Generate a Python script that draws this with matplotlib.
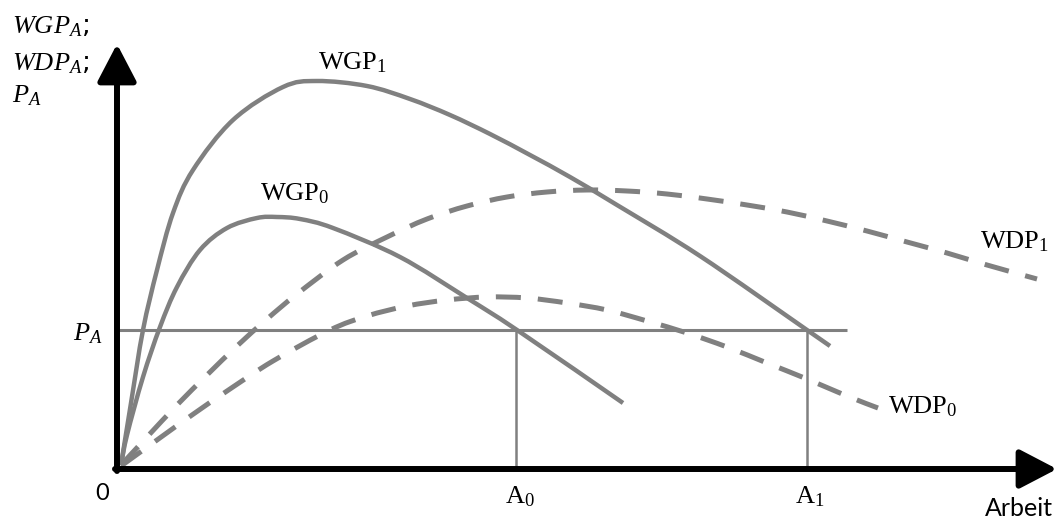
import matplotlib
matplotlib.use('Agg')
import matplotlib.pyplot as plt
from matplotlib.path import Path
from matplotlib.patches import PathPatch

plt.rcParams['mathtext.fontset'] = 'custom'
plt.rcParams['mathtext.rm'] = 'Liberation Serif'
plt.rcParams['mathtext.it'] = 'Liberation Serif:italic'

# curves (x = labour, y = value), origin at 0/0
wgp1_x = [4, 14, 26, 40, 56, 76, 116, 166, 200, 250, 293, 333, 373, 413, 453, 500, 583, 690, 713]
wgp1_y = [4, 66, 139, 199, 256, 299, 349, 382, 388, 383, 370, 354, 335, 314, 292, 264, 213, 139, 123]

wgp0_x = [4, 10, 26, 43, 60, 83, 110, 140, 160, 183, 216, 283, 350, 400, 506]
wgp0_y = [4, 34, 92, 142, 182, 219, 241, 251, 252, 250, 241, 212, 171, 139, 66]

wdp1_x = [4, 30, 60, 90, 120, 150, 180, 226, 270, 310, 350, 390, 430, 470, 510,
          550, 590, 630, 670, 710, 750, 790, 830, 870, 920]
wdp1_y = [4, 32, 64, 94, 123, 150, 175, 209, 232, 250, 263, 272, 277, 279, 278,
          275, 270, 264, 257, 248, 238, 227, 216, 204, 190]

wdp0_x = [4, 40, 75, 110, 156, 213, 250, 290, 330, 370, 410, 450, 490, 530,
          570, 610, 650, 690, 730, 761]
wdp0_y = [3, 29, 54, 78, 108, 139, 153, 163, 169, 172, 171, 166, 159, 148,
          136, 122, 106, 90, 73, 61]

p_a = 139
p_a_end = 730
a0 = 399
a1 = 690

grey = '#808080'


def smooth(xs, ys):
    # Catmull-Rom through the read points, drawn as bezier segments
    pts = list(zip(xs, ys))
    verts = [pts[0]]
    codes = [Path.MOVETO]
    for i in range(len(pts) - 1):
        p0 = pts[max(i - 1, 0)]
        p1 = pts[i]
        p2 = pts[i + 1]
        p3 = pts[min(i + 2, len(pts) - 1)]
        c1 = (p1[0] + (p2[0] - p0[0]) / 6, p1[1] + (p2[1] - p0[1]) / 6)
        c2 = (p2[0] - (p3[0] - p1[0]) / 6, p2[1] - (p3[1] - p1[1]) / 6)
        verts += [c1, c2, p2]
        codes += [Path.CURVE4] * 3
    return Path(verts, codes)


fig = plt.figure(figsize=(10.59, 5.21), dpi=100)
ax = fig.add_axes([0, 0, 1, 1])
ax.set_xlim(-117, 942)
ax.set_ylim(-52, 469)
ax.axis('off')

# price line and the two labour demands
ax.plot([0, p_a_end], [p_a, p_a], color=grey, lw=2.2, solid_capstyle='butt')
ax.plot([a0, a0], [0, p_a], color=grey, lw=1.8)
ax.plot([a1, a1], [0, p_a], color=grey, lw=1.8)

for xs, ys in [(wgp1_x, wgp1_y), (wgp0_x, wgp0_y)]:
    ax.add_patch(PathPatch(smooth(xs, ys), fill=False, edgecolor=grey, lw=3.2,
                           capstyle='butt'))
for xs, ys in [(wdp1_x, wdp1_y), (wdp0_x, wdp0_y)]:
    ax.add_patch(PathPatch(smooth(xs, ys), fill=False, edgecolor=grey, lw=3.6,
                           linestyle=(0, (5, 3.4)), capstyle='butt'))

# axes with arrows
arrow = dict(arrowstyle='-|>,head_length=2.3,head_width=1.2', color='black',
             lw=4.3, mutation_scale=10, shrinkA=0, shrinkB=0)
ax.annotate('', xy=(0, 425), xytext=(0, -2), arrowprops=arrow)
ax.annotate('', xy=(940, 0), xytext=(-2, 0), arrowprops=arrow)

serif = 'Liberation Serif'
ax.text(201, 400, r'WGP$_\mathrm{1}$', fontsize=19, family=serif, va='baseline')
ax.text(143, 269, r'WGP$_\mathrm{0}$', fontsize=19, family=serif, va='baseline')
ax.text(863, 221, r'WDP$_\mathrm{1}$', fontsize=19, family=serif, va='baseline')
ax.text(771, 56, r'WDP$_\mathrm{0}$', fontsize=19, family=serif, va='baseline')

ax.text(-105, 436, r'$WGP_A$;', fontsize=19, va='baseline')
ax.text(-105, 399, r'$WDP_A$;', fontsize=19, va='baseline')
ax.text(-105, 367, r'$P_A$', fontsize=19, va='baseline')
ax.text(-44, 129, r'$P_A$', fontsize=19, va='baseline')

ax.text(388, -34, r'A$_\mathrm{0}$', fontsize=19, family=serif, va='baseline')
ax.text(678, -34, r'A$_\mathrm{1}$', fontsize=19, family=serif, va='baseline')

ax.text(-15, -25, '0', fontsize=17, family='Lato', ha='center', va='center')
ax.text(902, -39, 'Arbeit', fontsize=18, family='Lato', ha='center', va='center')

fig.savefig('out.png', dpi=100)
